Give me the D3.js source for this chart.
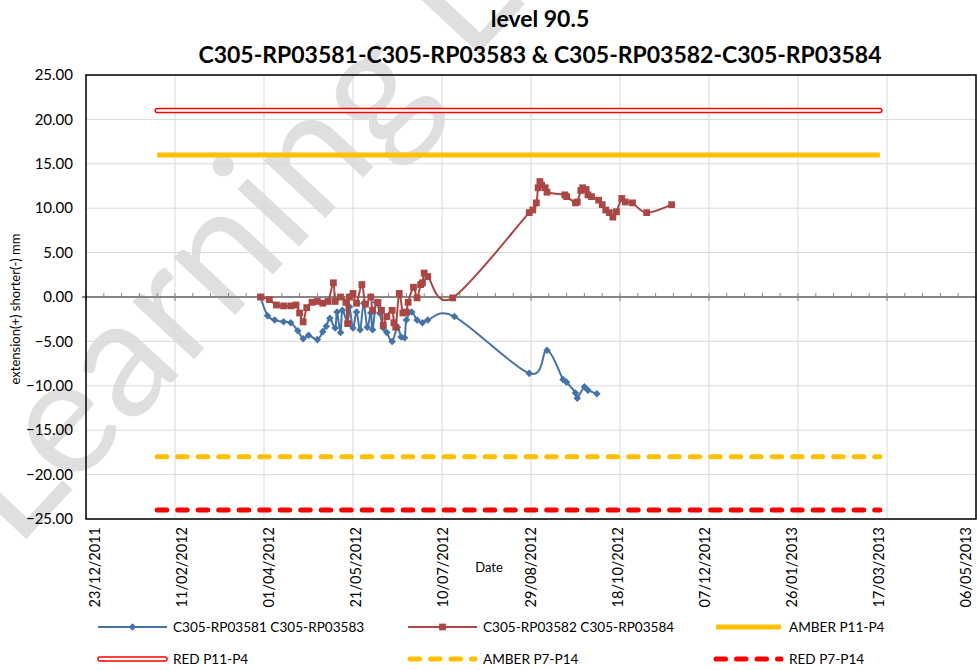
<!DOCTYPE html>
<html>
<head>
<meta charset="utf-8">
<script src="https://cdn.jsdelivr.net/npm/d3@7"></script>
<style>
body { margin: 0; background: #fff; }
svg { font-family: Lato, "Open Sans", sans-serif; }
</style>
</head>
<body>
<div id="chart"><svg></svg></div>
<script>
// titles
var titleLines = ['level 90.5', 'C305-RP03581-C305-RP03583 & C305-RP03582-C305-RP03584'];
var yTitle = 'extension(+) shorter(-) mm';
var xTitle = 'Date';

// series 1 (blue)
var blueName = 'C305-RP03581 C305-RP03583';
var blueDates = ['2012-03-30','2012-04-03','2012-04-07','2012-04-12','2012-04-16','2012-04-20','2012-04-23','2012-04-26',
    '2012-05-01','2012-05-04','2012-05-06','2012-05-08','2012-05-11','2012-05-12','2012-05-14','2012-05-15','2012-05-18',
    '2012-05-19','2012-05-21','2012-05-23','2012-05-25','2012-05-27','2012-05-29','2012-05-31','2012-06-01','2012-06-03',
    '2012-06-05','2012-06-07','2012-06-09','2012-06-12','2012-06-15','2012-06-17','2012-06-19','2012-06-20','2012-06-23',
    '2012-06-26','2012-06-29','2012-07-02','2012-07-17','2012-08-28','2012-09-07','2012-09-16','2012-09-18','2012-09-23',
    '2012-09-24','2012-09-28','2012-09-30','2012-10-05'];
var blueValues = [0.0,-2.1,-2.6,-2.8,-2.9,-3.8,-4.7,-4.3,
    -4.8,-3.9,-3.3,-2.4,-3.5,-1.7,-4.0,-1.5,-2.9,
    -1.1,-3.5,-1.7,-3.7,-0.7,-3.4,-1.8,-3.7,-0.6,
    -1.8,-3.5,-4.0,-5.0,-3.4,-4.5,-4.6,-2.6,-1.7,
    -2.6,-2.9,-2.6,-2.2,-8.6,-6.0,-9.3,-9.6,-10.8,
    -11.4,-10.1,-10.5,-10.9];

// series 2 (red)
var redName = 'C305-RP03582 C305-RP03584';
var redDates = ['2012-03-30','2012-04-04','2012-04-08','2012-04-12','2012-04-16','2012-04-19','2012-04-21','2012-04-23',
    '2012-04-25','2012-04-28','2012-05-01','2012-05-04','2012-05-07','2012-05-10','2012-05-11','2012-05-14','2012-05-17',
    '2012-05-18','2012-05-19','2012-05-21','2012-05-23','2012-05-26','2012-05-28','2012-05-31','2012-06-01','2012-06-04',
    '2012-06-06','2012-06-07','2012-06-09','2012-06-12','2012-06-13','2012-06-14','2012-06-16','2012-06-18','2012-06-20',
    '2012-06-21','2012-06-24','2012-06-26','2012-06-28','2012-06-29','2012-06-30','2012-07-02','2012-07-16','2012-08-28',
    '2012-08-30','2012-09-01','2012-09-02','2012-09-03','2012-09-04','2012-09-06','2012-09-07','2012-09-17','2012-09-18',
    '2012-09-23','2012-09-24','2012-09-26','2012-09-27','2012-09-29','2012-09-30','2012-10-02','2012-10-06','2012-10-08',
    '2012-10-10','2012-10-12','2012-10-14','2012-10-16','2012-10-19','2012-10-21','2012-10-25','2012-11-02','2012-11-16'];
var redValues = [0.0,-0.3,-0.9,-1.0,-1.0,-0.9,-1.8,-2.8,
    -1.2,-0.6,-0.5,-0.7,-0.5,1.6,-0.5,0.0,-0.6,
    -3.0,0.0,0.4,-0.7,1.4,-0.8,0.0,-1.5,-0.6,
    -1.5,-3.2,-2.2,-1.5,-2.9,-3.4,0.4,-1.8,-1.7,
    -0.6,1.1,-0.1,1.4,1.6,2.7,2.3,-0.1,9.5,
    9.8,10.6,12.3,13.0,12.6,12.3,11.8,11.5,11.3,
    10.6,10.7,12.0,12.3,12.1,11.5,11.3,10.9,10.4,
    9.8,9.5,9.0,9.6,11.1,10.7,10.6,9.5,10.4];

// alarm levels
var limitNames  = ['AMBER P11-P4', 'RED P11-P4', 'AMBER P7-P14', 'RED P7-P14'];
var limitValues = [16, 21, -18, -24];
var limitStart  = '2012-02-01';
var limitEnd    = '2013-03-13';

// axes
var xTickDates = ['2011-12-23','2012-02-11','2012-04-01','2012-05-21','2012-07-10','2012-08-29',
    '2012-10-18','2012-12-07','2013-01-26','2013-03-17','2013-05-06'];
var yTickValues = [-25, -20, -15, -10, -5, 0, 5, 10, 15, 20, 25];

var parse = d3.utcParse('%Y-%m-%d');

/**
 * Constructor
 */
function ChartView(svgid, width, height){
    this.svgId = svgid;
    this.svgWidth = width;
    this.svgHeight = height;
    this.plot = {left: 86, right: 976, top: 75, bottom: 519};
}

ChartView.prototype.init = function(){
    this.svg = d3.select(this.svgId).select('svg')
        .attr('width', this.svgWidth)
        .attr('height', this.svgHeight);

    var domain = [parse(xTickDates[0]), parse(xTickDates[xTickDates.length - 1])];
    this.x = d3.scaleUtc().domain(domain).range([this.plot.left, this.plot.right]);
    // Excel spreads the rotated date labels a little inside the plot width
    this.xLabel = d3.scaleUtc().domain(domain).range([95, 966]);
    this.y = d3.scaleLinear()
        .domain([-25, 25])
        .range([this.plot.bottom, this.plot.top]);
};

ChartView.prototype.update = function(){
    var x = this.x, y = this.y, p = this.plot, svg = this.svg, xl = this.xLabel;

    // watermark
    svg.append('text')
        .attr('transform', 'translate(16,550) rotate(-47)')
        .attr('font-size', 166)
        .attr('fill', '#dfdfdf')
        .text('Learning Legacy');

    // grid
    svg.append('g').selectAll('line').data(yTickValues).enter()
        .append('line')
        .attr('x1', p.left).attr('x2', p.right)
        .attr('y1', function (d) { return y(d); })
        .attr('y2', function (d) { return y(d); })
        .attr('stroke', '#d9d9d9').attr('stroke-width', 1);
    svg.append('g').selectAll('line').data(xTickDates).enter()
        .append('line')
        .attr('x1', function (d) { return x(parse(d)); })
        .attr('x2', function (d) { return x(parse(d)); })
        .attr('y1', p.top).attr('y2', p.bottom)
        .attr('stroke', '#d9d9d9').attr('stroke-width', 1);

    // y axis labels
    svg.append('g').selectAll('text').data(yTickValues).enter()
        .append('text')
        .attr('x', 73)
        .attr('y', function (d) { return y(d); })
        .attr('dy', '0.35em')
        .attr('text-anchor', 'end')
        .attr('font-size', 15)
        .text(function (d) { return d3.format('.2f')(d); });

    // x axis labels
    var fmt = d3.utcFormat('%d/%m/%Y');
    svg.append('g').selectAll('text').data(xTickDates).enter()
        .append('text')
        .attr('transform', function (d) { return 'translate(' + (xl(parse(d)) + 5) + ',527) rotate(-90)'; })
        .attr('text-anchor', 'end')
        .attr('font-size', 14.5)
        .text(function (d) { return fmt(parse(d)); });

    svg.append('text')
        .attr('transform', 'translate(20,' + (y(0) + 12) + ') rotate(-90)')
        .attr('text-anchor', 'middle')
        .attr('font-size', 13)
        .text(yTitle);
    svg.append('text')
        .attr('x', 489).attr('y', 572)
        .attr('text-anchor', 'middle')
        .attr('font-size', 13)
        .text(xTitle);

    // zero axis with ticks every 10 days
    var z = y(0);
    svg.append('line')
        .attr('x1', p.left - 4).attr('x2', p.right)
        .attr('y1', z).attr('y2', z)
        .attr('stroke', '#868686').attr('stroke-width', 2);
    var minor = d3.range(0, 51).map(function (i) { return d3.utcDay.offset(parse(xTickDates[0]), i * 10); });
    svg.append('g').selectAll('line').data(minor).enter()
        .append('line')
        .attr('x1', function (d) { return x(d); })
        .attr('x2', function (d) { return x(d); })
        .attr('y1', z - 4)
        .attr('y2', function (d, i) { return i % 5 === 0 ? z + 4 : z; })
        .attr('stroke', '#868686').attr('stroke-width', 1);

    // plot border
    svg.append('rect')
        .attr('x', p.left).attr('y', p.top)
        .attr('width', p.right - p.left).attr('height', p.bottom - p.top)
        .attr('fill', 'none').attr('stroke', '#000').attr('stroke-width', 1.5);

    // series
    var line = d3.line()
        .x(function (d) { return x(d.date); })
        .y(function (d) { return y(d.value); })
        .curve(d3.curveCardinal);

    var blue = blueDates.map(function (d, i) { return {date: parse(d), value: blueValues[i]}; });
    var red = redDates.map(function (d, i) { return {date: parse(d), value: redValues[i]}; });
    var diamond = d3.symbol().type(d3.symbolDiamond2).size(36);
    var square = d3.symbol().type(d3.symbolSquare).size(46);

    svg.append('path').datum(blue)
        .attr('d', line).attr('fill', 'none')
        .attr('stroke', '#4572A7').attr('stroke-width', 2);
    svg.append('g').selectAll('path').data(blue).enter()
        .append('path')
        .attr('transform', function (d) { return 'translate(' + x(d.date) + ',' + y(d.value) + ')'; })
        .attr('d', diamond).attr('fill', '#4572A7');

    svg.append('path').datum(red)
        .attr('d', line).attr('fill', 'none')
        .attr('stroke', '#AA4643').attr('stroke-width', 2);
    svg.append('g').selectAll('path').data(red).enter()
        .append('path')
        .attr('transform', function (d) { return 'translate(' + x(d.date) + ',' + y(d.value) + ')'; })
        .attr('d', square).attr('fill', '#AA4643');

    // alarm levels
    var x0 = x(parse(limitStart)), x1 = x(parse(limitEnd));
    var styles = this.limitStyles();
    limitValues.forEach(function (v, i) {
        styles[i].forEach(function (s) {
            svg.append('line')
                .attr('x1', x0).attr('x2', x1)
                .attr('y1', y(v)).attr('y2', y(v))
                .attr('stroke', s.color).attr('stroke-width', s.width)
                .attr('stroke-linecap', s.cap)
                .attr('stroke-dasharray', s.dash);
        });
    });

    this.legend(diamond, square, styles);

    // titles
    svg.append('g').selectAll('text').data(titleLines).enter()
        .append('text')
        .attr('x', 540)
        .attr('y', function (d, i) { return 27 + i * 36; })
        .attr('text-anchor', 'middle')
        .attr('font-size', 23)
        .attr('font-weight', 'bold')
        .text(function (d) { return d; });
};

/**
 * Helper: stroke layers for each alarm line
 */
ChartView.prototype.limitStyles = function () {
    return [
        [{color: '#FFC000', width: 5, cap: 'butt', dash: null}],
        [{color: '#FF0000', width: 5.5, cap: 'round', dash: null},
         {color: '#FFFFFF', width: 2.5, cap: 'round', dash: null}],
        [{color: '#FFC000', width: 5, cap: 'round', dash: '9.5,11'}],
        [{color: '#FF0000', width: 5, cap: 'round', dash: '9.5,11'}]
    ];
};

ChartView.prototype.legend = function (diamond, square, styles) {
    var svg = this.svg;
    var names = [blueName, redName].concat(limitNames);
    var colX = [98, 408, 714];
    var rowY = [627, 659];
    names.forEach(function (name, i) {
        var lx = colX[i % 3], ly = rowY[Math.floor(i / 3)];
        var g = svg.append('g').attr('transform', 'translate(' + lx + ',' + ly + ')');
        if (i < 2) {
            var c = i === 0 ? '#4572A7' : '#AA4643';
            g.append('line').attr('x1', 0).attr('x2', 69)
                .attr('stroke', c).attr('stroke-width', 2);
            g.append('path').attr('transform', 'translate(34.5,0)')
                .attr('d', i === 0 ? diamond : square).attr('fill', c);
        } else {
            styles[i - 2].forEach(function (s) {
                g.append('line').attr('x1', 2).attr('x2', 67)
                    .attr('stroke', s.color).attr('stroke-width', s.width)
                    .attr('stroke-linecap', s.cap)
                    .attr('stroke-dasharray', s.dash);
            });
        }
        g.append('text')
            .attr('x', 75).attr('dy', '0.35em')
            .attr('font-size', 13.6)
            .text(name);
    });
};

var view = new ChartView('#chart', 977, 670);
view.init();
view.update();
</script>
</body>
</html>
